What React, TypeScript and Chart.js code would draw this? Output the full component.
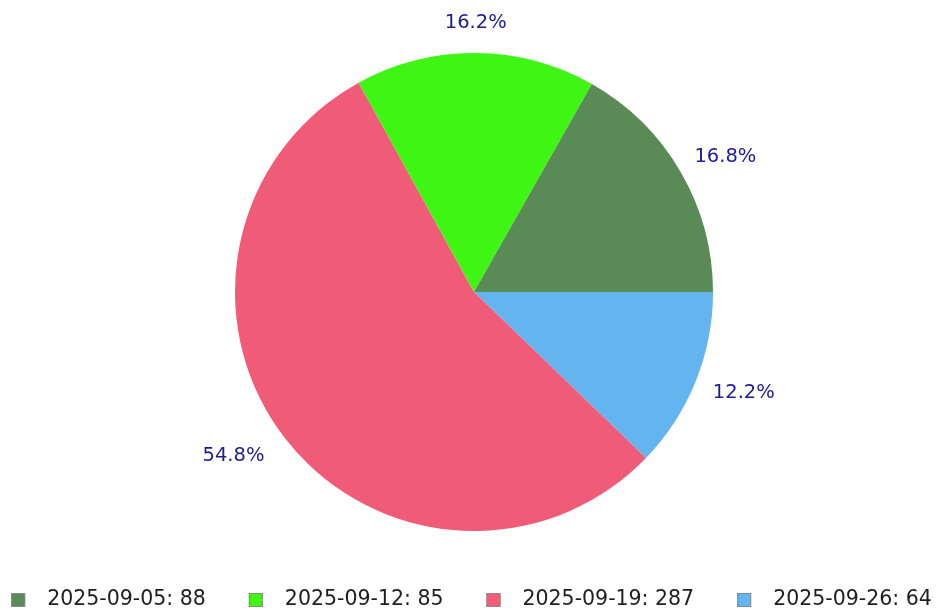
import React, { useEffect, useRef } from "react";
import { Chart, registerables } from "chart.js";

Chart.register(...registerables);

const categories = ["2025-09-05", "2025-09-12", "2025-09-19", "2025-09-26"];
const values = [88, 85, 287, 64];
const colors = ["#5a8a56", "#3ef514", "#f05c78", "#64b4f0"];

const LABEL_COLOR = "#1c1c96";
const FONT = "DejaVu Sans";

export default function App() {
  const ref = useRef<HTMLCanvasElement | null>(null);

  useEffect(() => {
    document.body.style.margin = "0";
    const canvas = ref.current;
    if (!canvas) return;
    const total = values.reduce((a, b) => a + b, 0);
    // Slices run counter-clockwise from 3 o'clock in the reference; Chart.js draws
    // clockwise, so feed the data reversed with rotation 90deg.
    const order = values.map((_, i) => values.length - 1 - i);

    const labelPlugin = {
      id: "pctLabels",
      afterDatasetsDraw(chart: any) {
        const ctx = chart.ctx;
        const meta = chart.getDatasetMeta(0);
        ctx.save();
        ctx.font = `19.5px "${FONT}"`;
        ctx.fillStyle = LABEL_COLOR;
        ctx.textBaseline = "middle";
        ctx.textAlign = "center";
        meta.data.forEach((arc: any, j: number) => {
          const i = order[j];
          const mid = (arc.startAngle + arc.endAngle) / 2;
          const r = arc.outerRadius + 27;
          const ax = arc.x + Math.cos(mid) * r;
          const ay = arc.y + Math.sin(mid) * r;
          const txt = ((values[i] / total) * 100).toFixed(1) + "%";
          const w = ctx.measureText(txt).width;
          const shift = Math.cos(mid) > 0 ? w / 2 - 6 : w / 2 + 6;
          ctx.fillText(txt, ax + Math.cos(mid) * shift, ay + 3 * Math.sin(mid));
        });
        ctx.restore();
      },
    };

    const legendPlugin = {
      id: "customLegend",
      afterDraw(chart: any) {
        const ctx = chart.ctx;
        ctx.save();
        ctx.font = `20.5px "${FONT}"`;
        const texts = categories.map((c, i) => `${c}: ${values[i]}`);
        const widths = texts.map((t) => ctx.measureText(t).width);
        const box = 14;
        const gapText = 22;
        const spacing = 43;
        const totalW =
          widths.reduce((a, b) => a + b + box + gapText, 0) + spacing * (texts.length - 1);
        let x = (chart.width - totalW) / 2 + 2;
        const cy = 600;
        texts.forEach((t, i) => {
          ctx.fillStyle = colors[i];
          ctx.fillRect(x, cy - box / 2, box, box);
          ctx.strokeStyle = "#8a8a8a";
          ctx.lineWidth = 1;
          ctx.strokeRect(x + 0.5, cy - box / 2 + 0.5, box - 1, box - 1);
          ctx.fillStyle = "#1e1e1e";
          ctx.textBaseline = "middle";
          ctx.textAlign = "left";
          ctx.fillText(t, x + box + gapText, cy);
          x += box + gapText + widths[i] + spacing;
        });
        ctx.restore();
      },
    };

    const chart = new Chart(canvas, {
      type: "pie",
      data: {
        labels: order.map((i) => categories[i]),
        datasets: [
          {
            data: order.map((i) => values[i]),
            backgroundColor: order.map((i) => colors[i]),
            borderWidth: 0,
          },
        ],
      },
      options: {
        responsive: false,
        animation: false,
        rotation: 90,
        layout: { padding: { top: 53, bottom: 80, left: 9, right: 0 } },
        plugins: {
          legend: { display: false },
          tooltip: { enabled: false },
        },
      },
      plugins: [labelPlugin, legendPlugin],
    });
    return () => chart.destroy();
  }, []);

  return (
    <div style={{ width: 939, height: 611, background: "#ffffff" }}>
      <canvas ref={ref} width={939} height={611} style={{ display: "block" }} />
    </div>
  );
}
